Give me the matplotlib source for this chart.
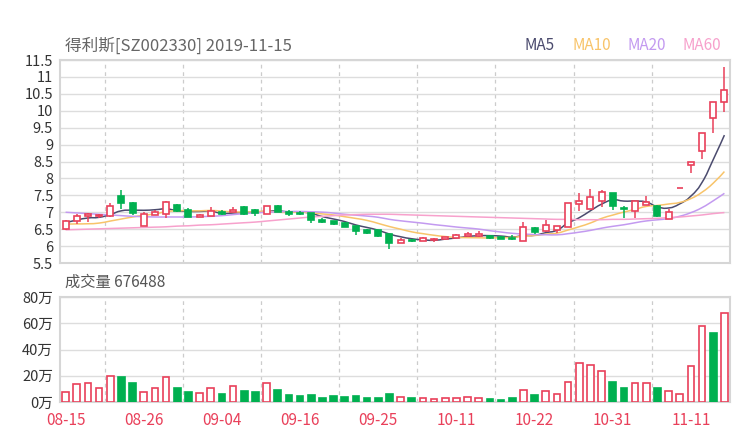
import matplotlib
matplotlib.use("Agg")
import matplotlib.pyplot as plt
import numpy as np
import pandas as pd
from matplotlib.patches import Rectangle, PathPatch
from matplotlib.path import Path

plt.rcParams['font.family'] = ['Noto Sans CJK SC', 'DejaVu Sans']

TITLE = "得利斯[SZ002330] 2019-11-15"

dates = ["08-15", "08-16", "08-19", "08-20", "08-21", "08-22", "08-23", "08-26", "08-27", "08-28",
         "08-29", "08-30", "09-02", "09-03", "09-04", "09-05", "09-06", "09-09", "09-10", "09-11",
         "09-12", "09-16", "09-17", "09-18", "09-19", "09-20", "09-23", "09-24", "09-25", "09-26",
         "09-27", "09-30", "10-08", "10-09", "10-10", "10-11", "10-14", "10-15", "10-16", "10-17",
         "10-18", "10-21", "10-22", "10-23", "10-24", "10-25", "10-28", "10-29", "10-30", "10-31",
         "11-01", "11-04", "11-05", "11-06", "11-07", "11-08", "11-11", "11-12", "11-13", "11-14"]

opens = [6.50, 6.73, 6.885, 6.885, 6.885, 7.49, 7.26, 6.58, 6.93, 6.96,
         7.22, 7.06, 6.87, 6.90, 7.01, 7.01, 7.16, 7.06, 6.96, 7.18,
         7.02, 6.99, 6.97, 6.77, 6.74, 6.69, 6.59, 6.49, 6.47, 6.35,
         6.10, 6.18, 6.16, 6.18, 6.20, 6.25, 6.29, 6.29, 6.31, 6.26,
         6.25, 6.15, 6.52, 6.45, 6.49, 6.57, 7.24, 7.11, 7.32, 7.56,
         7.13, 7.03, 7.22, 7.19, 6.81, 7.71, 8.40, 8.80, 9.80, 10.26]
closes = [6.73, 6.885, 6.96, 6.92, 7.17, 7.28, 6.98, 6.94, 7.00, 7.29,
          7.03, 6.87, 6.93, 7.05, 6.96, 7.08, 6.95, 6.98, 7.17, 7.01,
          6.95, 6.94, 6.76, 6.70, 6.65, 6.57, 6.44, 6.39, 6.29, 6.09,
          6.17, 6.145, 6.23, 6.22, 6.27, 6.34, 6.35, 6.35, 6.23, 6.21,
          6.20, 6.55, 6.41, 6.61, 6.58, 7.26, 7.33, 7.44, 7.59, 7.19,
          7.10, 7.33, 7.30, 6.89, 7.01, 7.71, 8.48, 9.33, 10.26, 10.62]
highs = [6.76, 6.96, 6.98, 6.96, 7.28, 7.65, 7.31, 7.01, 7.08, 7.34,
         7.24, 7.14, 6.96, 7.16, 7.08, 7.16, 7.17, 7.10, 7.19, 7.21,
         7.08, 7.04, 6.99, 6.83, 6.75, 6.70, 6.60, 6.50, 6.48, 6.37,
         6.23, 6.22, 6.27, 6.23, 6.28, 6.35, 6.41, 6.45, 6.32, 6.30,
         6.32, 6.70, 6.55, 6.78, 6.60, 7.27, 7.56, 7.68, 7.67, 7.57,
         7.17, 7.34, 7.49, 7.20, 7.10, 7.71, 8.48, 9.33, 10.26, 11.28]
lows = [6.47, 6.66, 6.70, 6.83, 6.87, 7.10, 6.93, 6.58, 6.92, 6.84,
        7.02, 6.85, 6.86, 6.90, 6.91, 7.00, 6.92, 6.89, 6.95, 7.00,
        6.89, 6.93, 6.69, 6.69, 6.61, 6.56, 6.32, 6.37, 6.26, 5.91,
        6.09, 6.13, 6.15, 6.11, 6.19, 6.24, 6.28, 6.28, 6.20, 6.20,
        6.19, 6.14, 6.37, 6.42, 6.39, 6.56, 7.04, 7.10, 7.16, 7.08,
        6.83, 6.83, 7.21, 6.86, 6.80, 7.71, 8.15, 8.58, 9.33, 9.95]

# volume in 万 (10k)
volume = [7.4, 13.6, 14.4, 10.3, 19.7, 18.7, 14.4, 7.7, 10.5, 18.7,
          10.5, 7.4, 6.7, 10.5, 6.4, 12.1, 8.2, 7.4, 14.4, 9.2,
          5.4, 4.4, 5.4, 3.1, 4.4, 4.1, 4.4, 3.1, 2.8, 5.9,
          4.1, 2.8, 2.8, 2.6, 3.3, 2.8, 3.6, 3.1, 2.3, 1.5,
          3.1, 9.2, 5.4, 8.2, 5.9, 14.9, 29.7, 28.2, 23.3, 15.6,
          11.0, 14.4, 14.4, 10.5, 8.2, 5.9, 27.4, 58.2, 52.6, 67.6488]
# days whose volume bar is drawn green
vol_green_days = [5, 6, 10, 11, 14, 16, 17, 19, 20, 21, 22, 23, 24, 25, 26, 27, 28, 29,
                  31, 38, 39, 40, 42, 49, 50, 53, 58]

# moving averages before the window is full (earlier history not shown)
ma5_head = [6.69, 6.77, 6.83, 6.85]
ma10_head = [6.65, 6.655, 6.66, 6.68, 6.74, 6.80, 6.86, 6.91, 6.95]
ma20_head = [7.00, 6.98, 6.96, 6.94, 6.92, 6.90, 6.88, 6.87, 6.86, 6.86,
             6.86, 6.86, 6.87, 6.88, 6.90, 6.93, 6.96, 6.98, 7.00]
ma60 = [6.48, 6.49, 6.50, 6.51, 6.52, 6.53, 6.54, 6.55, 6.56, 6.57,
        6.59, 6.60, 6.62, 6.63, 6.65, 6.67, 6.69, 6.71, 6.74, 6.77,
        6.80, 6.83, 6.86, 6.88, 6.90, 6.92, 6.93, 6.94, 6.94, 6.94,
        6.93, 6.92, 6.91, 6.90, 6.89, 6.88, 6.87, 6.86, 6.85, 6.84,
        6.83, 6.82, 6.81, 6.80, 6.79, 6.79, 6.78, 6.78, 6.78, 6.79,
        6.79, 6.80, 6.81, 6.82, 6.84, 6.86, 6.89, 6.92, 6.96, 6.99]

RED, GREEN = "#e9405a", "#00b050"
MA_COLORS = {"MA5": "#4b4b6e", "MA10": "#f8c46a", "MA20": "#c39af0", "MA60": "#f7a1cc"}
GRID = "#dddddd"


def moving_avg(head, n):
    s = pd.Series(closes).rolling(n).mean().to_numpy()
    s[:len(head)] = head
    return s


def smooth_path(xs, ys, k=0.25):
    """Cubic bezier through every point (rendering only, like a smoothed line series)."""
    pts = np.column_stack([xs, ys])
    verts, codes = [pts[0]], [Path.MOVETO]
    for i in range(len(pts) - 1):
        p0, p1 = pts[max(i - 1, 0)], pts[i]
        p2, p3 = pts[i + 1], pts[min(i + 2, len(pts) - 1)]
        verts += [p1 + (p2 - p0) * k, p2 - (p3 - p1) * k, p2]
        codes += [Path.CURVE4] * 3
    return Path(verts, codes)


def frame(ax):
    for sp in ax.spines.values():
        sp.set_color("#d6d6d6")
        sp.set_linewidth(1.5)
    ax.tick_params(length=0, colors="#333333", labelsize=10.5, pad=5)
    ax.set_xlim(-0.5, len(dates) - 0.5)
    for g in np.arange(3.5, len(dates), 7):
        ax.axvline(g, color="#cccccc", lw=0.9, ls=(0, (3, 3)), zorder=0)


x = np.arange(len(dates))
fig = plt.figure(figsize=(7.4, 4.4), dpi=100)
ax = fig.add_axes([60 / 740, 1 - 263 / 440, 670 / 740, 203 / 440])
av = fig.add_axes([60 / 740, 1 - 402 / 440, 670 / 740, 105 / 440])

# ---- candles ----
frame(ax)
ax.set_ylim(5.5, 11.5)
yt = np.arange(5.5, 11.51, 0.5)
ax.set_yticks(yt)
ax.set_yticklabels([f"{v:g}" for v in yt])
ax.grid(axis="y", color=GRID, lw=1, zorder=0)
ax.set_xticks([])

mas = {"MA5": moving_avg(ma5_head, 5), "MA10": moving_avg(ma10_head, 10),
       "MA20": moving_avg(ma20_head, 20), "MA60": np.array(ma60)}
for name, vals in mas.items():
    ax.add_patch(PathPatch(smooth_path(x, vals), fill=False, edgecolor=MA_COLORS[name], lw=1.1, zorder=2))

bw = 0.55
for i in x:
    o, c, h, l = opens[i], closes[i], highs[i], lows[i]
    up = c >= o
    col = RED if up else GREEN
    top, bot = max(o, c), min(o, c)
    ax.plot([i, i], [top, h], color=col, lw=1.1, zorder=3, solid_capstyle="butt")
    ax.plot([i, i], [l, bot], color=col, lw=1.1, zorder=3, solid_capstyle="butt")
    ax.add_patch(Rectangle((i - bw / 2, bot), bw, top - bot, facecolor="white" if up else col,
                           edgecolor=col, lw=1.2, zorder=3))

fig.text(65 / 740, 1 - 46 / 440, TITLE, fontsize=12, color="#666666", va="center")
for name, xp in zip(mas, [540, 592, 647, 702]):
    fig.text(xp / 740, 1 - 46 / 440, name, fontsize=11, color=MA_COLORS[name], va="center", ha="center")

# ---- volume ----
frame(av)
av.set_ylim(0, 80)
av.set_yticks([0, 20, 40, 60, 80])
av.set_yticklabels([f"{v}万" for v in [0, 20, 40, 60, 80]])
av.grid(axis="y", color=GRID, lw=1, zorder=0)
vw = 0.6
for i in x:
    green = i in vol_green_days
    col = GREEN if green else RED
    av.add_patch(Rectangle((i - vw / 2, 0), vw, volume[i], facecolor=col if green else "white",
                           edgecolor=col, lw=1.2, zorder=3))
lab_idx = list(range(0, len(dates), 7))
av.set_xticks(lab_idx)
av.set_xticklabels([dates[i] for i in lab_idx], color=RED, fontsize=11)
av.tick_params(axis="x", pad=7)
fig.text(65 / 740, 1 - 282 / 440, f"成交量 {round(volume[-1] * 10000)}", fontsize=11,
         color="#555555", va="center")

fig.savefig("out.png", dpi=100)
